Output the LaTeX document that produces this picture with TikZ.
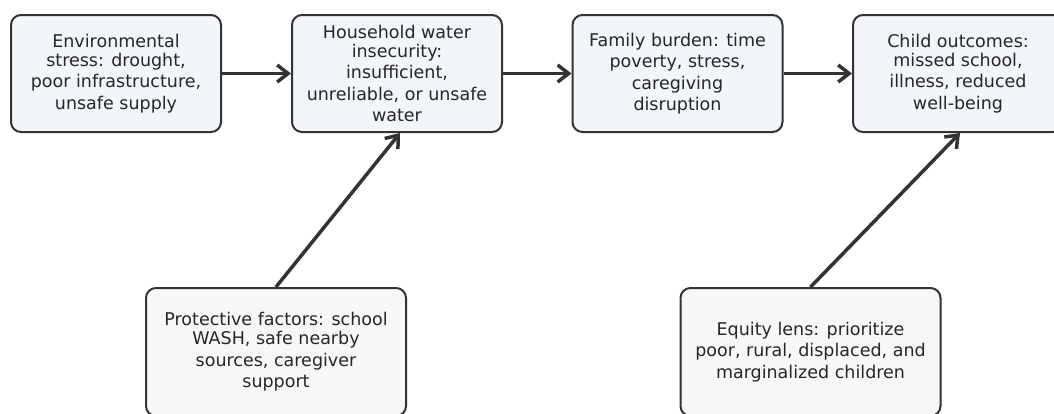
\documentclass[tikz,border=0pt]{standalone}
\usepackage{fontspec}
\setmainfont{DejaVu Sans}
\usetikzlibrary{arrows.meta}

\definecolor{edgegray}{HTML}{333333}
\definecolor{topfill}{HTML}{F2F5F9}
\definecolor{lowfill}{HTML}{F7F7F7}

\begin{document}
\begin{tikzpicture}[x=1pt, y=-1pt,
	box/.style={draw=edgegray, line width=2pt, rounded corners=10pt, fill=topfill,
		minimum width=210pt, minimum height=117pt, align=center, inner sep=0pt,
		font=\fontsize{17.5}{21.5}\selectfont, text=black!85},
	lowbox/.style={box, fill=lowfill, minimum width=260pt, minimum height=128pt},
	flow/.style={draw=edgegray, line width=3.5pt, -{Straight Barb[length=11pt, width=17pt]}}]
				\useasboundingbox (0, 0) rectangle (1054, 413);
				\clip (0, 0) rectangle (1054, 413);
				\fill[white] (0, 0) rectangle (1054, 413);
				
				\node[box] (env) at (116, 73.5) {Environmental\\[-2.5pt] stress: drought,\\ poor infrastructure,\\ unsafe supply};
				\node[box] (hwi) at (397, 73.5) {Household water\\[-2.5pt] insecurity:\\ insufficient,\\ unreliable, or unsafe\\ water};
				\node[box] (fam) at (677.5, 73.5) {Family burden: time\\ poverty, stress,\\ caregiving\\ disruption};
				\node[box] (child) at (958, 73.5) {Child outcomes:\\[-2.5pt] missed school,\\ illness, reduced\\ well-being};
				\node[lowbox] (prot) at (276, 352) {Protective factors: school\\[-2.5pt] WASH, safe nearby\\ sources, caregiver\\ support};
				\node[lowbox] (equity) at (810.5, 352) {Equity lens: prioritize\\ poor, rural, displaced, and\\ marginalized children};
				
				\draw[flow] (env) -- (hwi);
				\draw[flow] (hwi) -- (fam);
				\draw[flow] (fam) -- (child);
				\draw[flow] (prot.north) -- ([xshift=3pt]hwi.south);
				\draw[flow] (equity.north) -- ([xshift=2pt]child.south);
			\end{tikzpicture}
\end{document}
